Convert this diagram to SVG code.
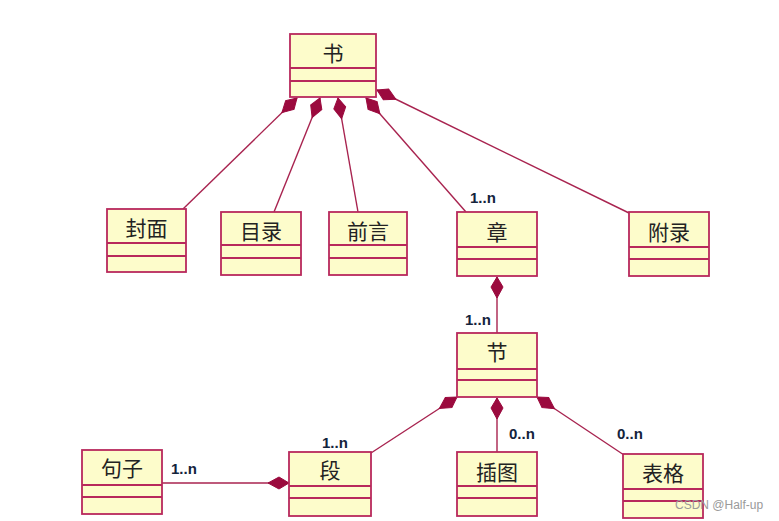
<svg xmlns="http://www.w3.org/2000/svg" xmlns:xlink="http://www.w3.org/1999/xlink" width="779" height="521" viewBox="0 0 779 521">
<style>
.box{fill:#fdfccb;stroke:#b8285c;stroke-width:1.8}
.div{stroke:#b8285c;stroke-width:1.8}
.name{font-family:"Noto Sans CJK SC","Noto Sans",sans-serif;font-size:21px;fill:#222;text-anchor:middle}
.line{stroke:#a8234f;stroke-width:1.4;fill:none}
.dia{fill:#9b0a3e;stroke:#9b0a3e;stroke-width:1}
.mult{font-family:"Liberation Sans",Arial,sans-serif;font-size:15px;font-weight:bold;fill:#14233c}
.wm{font-family:"Liberation Sans",Arial,sans-serif;font-size:12px;fill:#9a9a9a}
</style>
<defs>
<path id="diamond" d="M0,0 L10,-6 L21,0 L10,6 Z"/>
</defs>
<rect width="779" height="521" fill="#ffffff"/>
<g id="connectors">
<line class="line" x1="297" y1="98" x2="183" y2="209"/>
<use href="#diamond" class="dia" transform="translate(297,98) rotate(135.8)"/>
<line class="line" x1="320" y1="98" x2="274" y2="212"/>
<use href="#diamond" class="dia" transform="translate(320,98) rotate(112)"/>
<line class="line" x1="338" y1="98" x2="358" y2="212"/>
<use href="#diamond" class="dia" transform="translate(338,98) rotate(80)"/>
<line class="line" x1="366" y1="98" x2="466" y2="212"/>
<use href="#diamond" class="dia" transform="translate(366,98) rotate(48.7)"/>
<line class="line" x1="377" y1="90" x2="629" y2="213"/>
<use href="#diamond" class="dia" transform="translate(377,90) rotate(26)"/>
<line class="line" x1="497" y1="277" x2="497" y2="333"/>
<use href="#diamond" class="dia" transform="translate(497,277) rotate(90)"/>
<line class="line" x1="457" y1="397" x2="371" y2="453"/>
<use href="#diamond" class="dia" transform="translate(457,397) rotate(146.9)"/>
<line class="line" x1="497" y1="398" x2="497" y2="452"/>
<use href="#diamond" class="dia" transform="translate(497,398) rotate(90)"/>
<line class="line" x1="537" y1="397" x2="624" y2="455"/>
<use href="#diamond" class="dia" transform="translate(537,397) rotate(33.7)"/>
<line class="line" x1="289" y1="483" x2="162" y2="483"/>
<use href="#diamond" class="dia" transform="translate(289,483) rotate(180)"/>
<text class="mult" x="470" y="203">1..n</text>
<text class="mult" x="465" y="325">1..n</text>
<text class="mult" x="322" y="448">1..n</text>
<text class="mult" x="171" y="474">1..n</text>
<text class="mult" x="509" y="439">0..n</text>
<text class="mult" x="617" y="439">0..n</text>
</g>
<g id="book">
<rect class="box" x="290" y="34" width="86" height="63"/>
<line class="div" x1="290" y1="68" x2="376" y2="68"/><line class="div" x1="290" y1="81" x2="376" y2="81"/>
<text class="name" x="333" y="61">书</text>
</g>
<g id="cover">
<rect class="box" x="107" y="209" width="79" height="63"/>
<line class="div" x1="107" y1="243" x2="186" y2="243"/><line class="div" x1="107" y1="256" x2="186" y2="256"/>
<text class="name" x="146.5" y="236">封面</text>
</g>
<g id="toc">
<rect class="box" x="221" y="212" width="80" height="63"/>
<line class="div" x1="221" y1="245" x2="301" y2="245"/><line class="div" x1="221" y1="258" x2="301" y2="258"/>
<text class="name" x="261" y="239">目录</text>
</g>
<g id="preface">
<rect class="box" x="329" y="212" width="78" height="63"/>
<line class="div" x1="329" y1="245" x2="407" y2="245"/><line class="div" x1="329" y1="258" x2="407" y2="258"/>
<text class="name" x="368" y="239">前言</text>
</g>
<g id="chapter">
<rect class="box" x="457" y="212" width="80" height="64"/>
<line class="div" x1="457" y1="247" x2="537" y2="247"/><line class="div" x1="457" y1="259" x2="537" y2="259"/>
<text class="name" x="497" y="240">章</text>
</g>
<g id="appendix">
<rect class="box" x="629" y="212" width="80" height="64"/>
<line class="div" x1="629" y1="247" x2="709" y2="247"/><line class="div" x1="629" y1="259" x2="709" y2="259"/>
<text class="name" x="669" y="240">附录</text>
</g>
<g id="section">
<rect class="box" x="457" y="333" width="80" height="64"/>
<line class="div" x1="457" y1="369" x2="537" y2="369"/><line class="div" x1="457" y1="380" x2="537" y2="380"/>
<text class="name" x="497" y="360">节</text>
</g>
<g id="sentence">
<rect class="box" x="82" y="450" width="80" height="64"/>
<line class="div" x1="82" y1="485" x2="162" y2="485"/><line class="div" x1="82" y1="497" x2="162" y2="497"/>
<text class="name" x="122" y="476">句子</text>
</g>
<g id="paragraph">
<rect class="box" x="289" y="452" width="82" height="64"/>
<line class="div" x1="289" y1="486" x2="371" y2="486"/><line class="div" x1="289" y1="498" x2="371" y2="498"/>
<text class="name" x="330" y="478">段</text>
</g>
<g id="figure">
<rect class="box" x="457" y="452" width="80" height="64"/>
<line class="div" x1="457" y1="486" x2="537" y2="486"/><line class="div" x1="457" y1="498" x2="537" y2="498"/>
<text class="name" x="497" y="480">插图</text>
</g>
<g id="table">
<rect class="box" x="623" y="454" width="80" height="64"/>
<line class="div" x1="623" y1="489" x2="703" y2="489"/><line class="div" x1="623" y1="501" x2="703" y2="501"/>
<text class="name" x="663" y="481">表格</text>
</g>
<text class="wm" x="675" y="509">CSDN @Half-up</text>
</svg>
